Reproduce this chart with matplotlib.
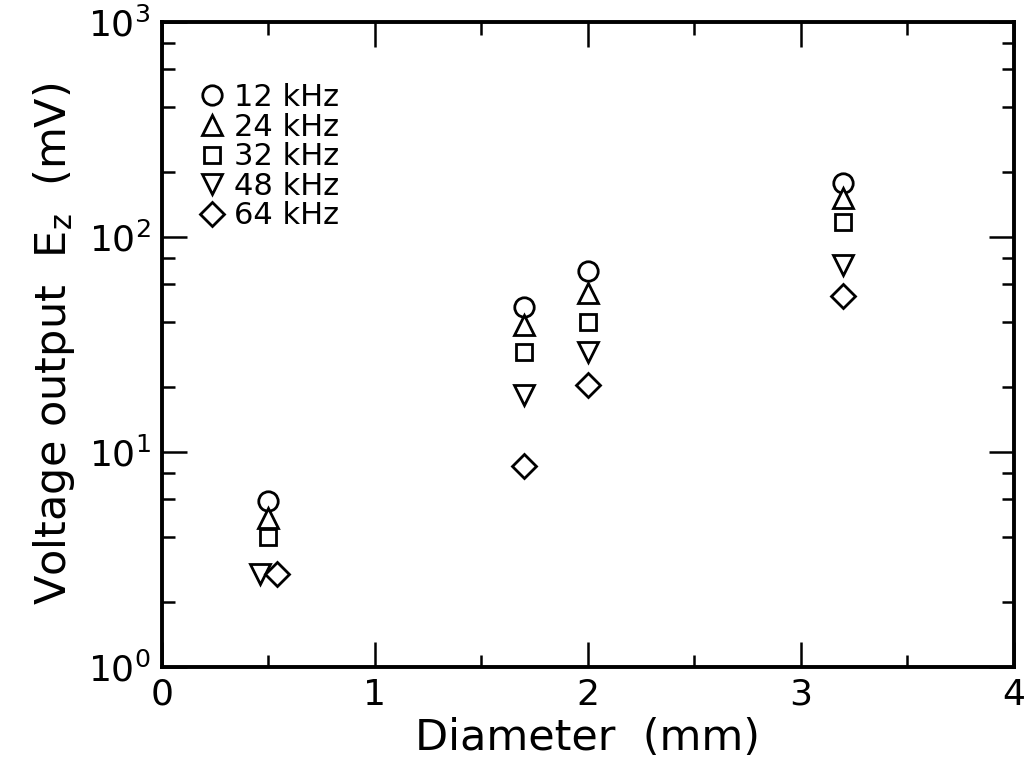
import numpy as np
import matplotlib
matplotlib.use("Agg")
import matplotlib.pyplot as plt
from matplotlib.ticker import LogLocator, MultipleLocator

# Voltage output vs wire diameter, one series per excitation frequency
frecuencias = ["12 kHz", "24 kHz", "32 kHz", "48 kHz", "64 kHz"]
marcadores = ["o", "^", "s", "v", "D"]

diam_12 = [0.5, 1.7, 2.0, 3.2]
volt_12 = [5.9, 47, 69, 178]

diam_24 = [0.5, 1.7, 2.0, 3.2]
volt_24 = [4.9, 39, 55, 152]

diam_32 = [0.5, 1.7, 2.0, 3.2]
volt_32 = [4.0, 29, 40, 117]

diam_48 = [0.46, 1.7, 2.0, 3.2]
volt_48 = [2.7, 18.4, 29, 74]

diam_64 = [0.54, 1.7, 2.0, 3.2]
volt_64 = [2.7, 8.6, 20.5, 53]

series = [
    (diam_12, volt_12),
    (diam_24, volt_24),
    (diam_32, volt_32),
    (diam_48, volt_48),
    (diam_64, volt_64),
]

plt.rcParams['font.family'] = ['DejaVu Sans']
plt.rcParams['mathtext.default'] = 'regular'

fig = plt.figure(figsize=(10.30, 7.77), dpi=100)
ax = fig.add_axes([0.157, 0.142, 0.827, 0.830])

tamanos = [14, 14, 12, 14, 12]
for (x, y), m, etiqueta, ms in zip(series, marcadores, frecuencias, tamanos):
    ax.plot(x, y, linestyle='none', marker=m, markersize=ms,
            markerfacecolor='white', markeredgecolor='black',
            markeredgewidth=2.0, label=etiqueta)

ax.set_yscale('log')
ax.set_xlim(0, 4)
ax.set_ylim(1, 1000)

ax.xaxis.set_major_locator(MultipleLocator(1))
ax.xaxis.set_minor_locator(MultipleLocator(0.5))
ax.yaxis.set_major_locator(LogLocator(base=10))
ax.yaxis.set_minor_locator(LogLocator(base=10, subs=(2, 4, 6, 8)))
ax.yaxis.set_minor_formatter(plt.NullFormatter())

ax.tick_params(which='both', direction='in', top=True, right=True,
               width=1.8, labelsize=26)
ax.tick_params(which='major', length=18, pad=8)
ax.tick_params(which='minor', length=9)

for lado in ax.spines.values():
    lado.set_linewidth(2.8)

ax.set_xlabel('Diameter  (mm)', fontsize=31, labelpad=4)
ax.set_ylabel('Voltage output  E$_z$  (mV)', fontsize=31, labelpad=8)

ax.legend(loc='upper left', bbox_to_anchor=(0.045, 0.905), frameon=False,
          fontsize=22, handlelength=0.8, handletextpad=0.3,
          labelspacing=0.02, borderaxespad=0, borderpad=0)

fig.savefig('out.png', dpi=100)
